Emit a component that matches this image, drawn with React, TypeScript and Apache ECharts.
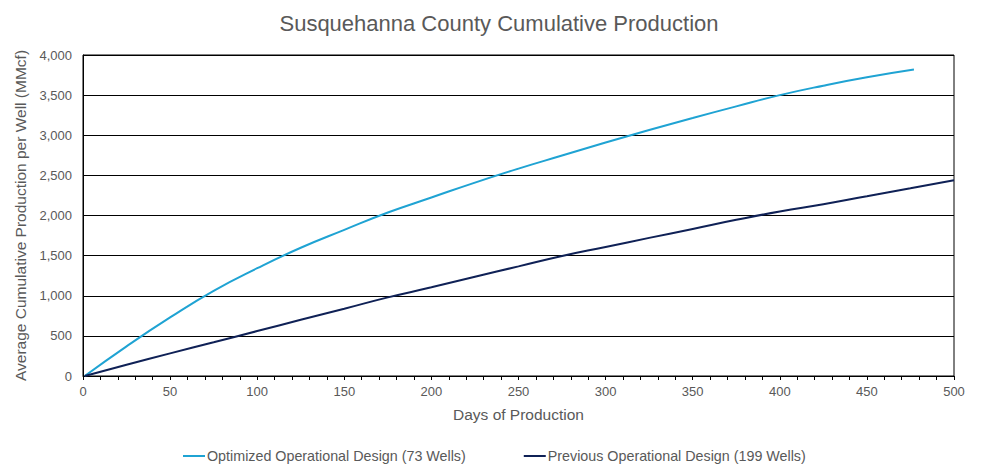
import React, { useEffect, useRef } from "react";
import * as echarts from "echarts";

const titleText = "Susquehanna County Cumulative Production";
const xAxisName = "Days of Production";
const yAxisName = "Average Cumulative Production per Well (MMcf)";
const seriesNames = [
  "Optimized Operational Design (73 Wells)",
  "Previous Operational Design (199 Wells)",
];

const optimizedDays = [1, 25, 50, 75, 100, 125, 150, 175, 200, 225, 250, 275, 300, 325, 350, 375, 400, 425, 450, 477];
const optimizedValues = [0, 370, 730, 1062, 1343, 1598, 1821, 2037, 2224, 2410, 2584, 2747, 2909, 3065, 3214, 3360, 3500, 3618, 3722, 3818];

const previousDays = [1, 25, 50, 75, 100, 125, 150, 175, 200, 225, 250, 275, 300, 325, 350, 375, 400, 425, 450, 475, 500];
const previousValues = [0, 140, 282, 420, 560, 700, 838, 980, 1105, 1237, 1366, 1495, 1608, 1721, 1833, 1946, 2050, 2140, 2240, 2340, 2438];

const xMin = 0;
const xMax = 500;
const xInterval = 50;
const yMin = 0;
const yMax = 4000;
const yInterval = 500;

const colors = ["#1FA3D3", "#0F2156"];

export default function App() {
  const ref = useRef<HTMLDivElement>(null);
  useEffect(() => {
    if (!ref.current) return;
    const chart = echarts.init(ref.current, null, { renderer: "svg" });
    const font = "'Liberation Sans', Arial, sans-serif";
    chart.setOption({
      animation: false,
      textStyle: { fontFamily: font },
      title: {
        text: titleText,
        left: "center",
        top: 7,
        textStyle: { fontFamily: font, fontSize: 22, fontWeight: "normal", color: "#595959" },
      },
      legend: {
        bottom: 7,
        left: 178,
        itemWidth: 22,
        itemHeight: 2,
        itemGap: 58,
        icon: "rect",
        textStyle: { fontFamily: font, fontSize: 14.3, color: "#595959", padding: [0, 0, 0, -3] },
        data: seriesNames,
      },
      grid: {
        left: 83,
        right: 44,
        top: 55,
        bottom: 99,
        show: true,
        borderColor: "#000",
        borderWidth: 1,
        containLabel: false,
      },
      xAxis: {
        type: "value",
        min: xMin,
        max: xMax,
        interval: xInterval,
        name: xAxisName,
        nameLocation: "middle",
        nameGap: 30,
        nameTextStyle: { fontFamily: font, fontSize: 15.5, color: "#595959" },
        axisLine: { show: true, lineStyle: { color: "#000", width: 1 } },
        axisTick: { show: true, length: 4, lineStyle: { color: "#000" } },
        minorTick: { show: true, splitNumber: 5, length: 4, lineStyle: { color: "#000" } },
        axisLabel: { fontFamily: font, fontSize: 13, color: "#595959", margin: 9 },
        splitLine: { show: false },
      },
      yAxis: {
        type: "value",
        min: yMin,
        max: yMax,
        interval: yInterval,
        name: yAxisName,
        nameLocation: "middle",
        nameGap: 54,
        nameTextStyle: { fontFamily: font, fontSize: 15.5, color: "#595959" },
        axisLine: { show: true, lineStyle: { color: "#000", width: 1 } },
        axisTick: { show: false },
        axisLabel: {
          fontFamily: font,
          fontSize: 13,
          color: "#595959",
          margin: 11,
          formatter: (v: number) => v.toLocaleString("en-US"),
        },
        splitLine: { show: true, lineStyle: { color: "#000", width: 1 } },
      },
      series: [
        {
          name: seriesNames[0],
          type: "line",
          smooth: true,
          showSymbol: false,
          lineStyle: { color: colors[0], width: 2 },
          itemStyle: { color: colors[0] },
          data: optimizedDays.map((d, i) => [d, optimizedValues[i]]),
        },
        {
          name: seriesNames[1],
          type: "line",
          smooth: true,
          showSymbol: false,
          lineStyle: { color: colors[1], width: 2 },
          itemStyle: { color: colors[1] },
          data: previousDays.map((d, i) => [d, previousValues[i]]),
        },
      ],
    });
    return () => chart.dispose();
  }, []);
  return <div ref={ref} style={{ width: 998, height: 475, position: "absolute", left: 0, top: 0 }} />;
}
